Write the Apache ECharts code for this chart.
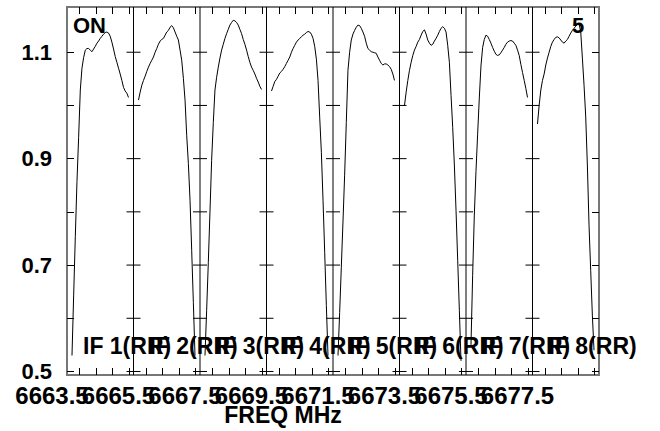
<!DOCTYPE html>
<html><head><meta charset="utf-8">
<script src="https://cdn.jsdelivr.net/npm/echarts@6/dist/echarts.min.js"></script>
<style>html,body{margin:0;padding:0;background:#fff}#c{width:660px;height:431px}</style>
</head><body><div id="c"></div>
<script>
// ---- data ----
const ifStart = [6663.5, 6665.5, 6667.5, 6669.5, 6671.5, 6673.5, 6675.5, 6677.5];
const ifNames = ['IF 1(RR)', 'IF 2(RR)', 'IF 3(RR)', 'IF 4(RR)', 'IF 5(RR)', 'IF 6(RR)', 'IF 7(RR)', 'IF 8(RR)'];
const xTickLabels = ['6663.5', '6665.5', '6667.5', '6669.5', '6671.5', '6673.5', '6675.5', '6677.5'];
const xMinorOffsets = [0.37, 0.87, 1.37, 1.87];
const yTickValues = [0.5, 0.6, 0.7, 0.8, 0.9, 1.0, 1.1];
const yLabelValues = [0.5, 0.7, 0.9, 1.1];
const chanOffset = [0.15, 0.20, 0.25, 0.30, 0.35, 0.40, 0.45, 0.50, 0.55, 0.60, 0.65, 0.70, 0.75, 0.80, 0.85, 0.90, 0.95, 1.00, 1.05, 1.10, 1.15, 1.20, 1.25, 1.30, 1.35, 1.40, 1.45, 1.50, 1.55, 1.60, 1.65, 1.70, 1.75, 1.80, 1.85];
const if1 = [0.53, 0.642, 0.754, 0.857, 0.94, 1.029, 1.07, 1.09, 1.104, 1.107, 1.107, 1.104, 1.101, 1.106, 1.111, 1.117, 1.121, 1.126, 1.13, 1.134, 1.137, 1.138, 1.136, 1.13, 1.119, 1.106, 1.092, 1.081, 1.07, 1.059, 1.047, 1.034, 1.027, 1.023, 1.015];
const if2 = [1.010, 1.025, 1.038, 1.047, 1.055, 1.064, 1.072, 1.079, 1.085, 1.091, 1.10, 1.107, 1.115, 1.121, 1.124, 1.126, 1.132, 1.138, 1.141, 1.147, 1.15, 1.146, 1.138, 1.13, 1.123, 1.104, 1.085, 1.051, 1.01, 0.944, 0.891, 0.822, 0.728, 0.63, 0.53];
const if3 = [0.53, 0.615, 0.705, 0.80, 0.897, 0.968, 1.029, 1.053, 1.072, 1.089, 1.104, 1.115, 1.126, 1.135, 1.143, 1.151, 1.156, 1.16, 1.159, 1.156, 1.151, 1.143, 1.135, 1.124, 1.115, 1.104, 1.092, 1.081, 1.072, 1.066, 1.059, 1.051, 1.044, 1.036, 1.03];
const if4 = [1.027, 1.036, 1.045, 1.049, 1.055, 1.061, 1.064, 1.068, 1.073, 1.079, 1.085, 1.091, 1.10, 1.107, 1.113, 1.119, 1.123, 1.126, 1.129, 1.132, 1.134, 1.137, 1.139, 1.138, 1.134, 1.126, 1.111, 1.087, 1.047, 0.978, 0.912, 0.822, 0.724, 0.624, 0.53];
const if5 = [0.53, 0.611, 0.696, 0.781, 0.869, 0.968, 1.066, 1.10, 1.123, 1.134, 1.141, 1.147, 1.151, 1.15, 1.145, 1.138, 1.13, 1.117, 1.107, 1.104, 1.101, 1.10, 1.099, 1.098, 1.091, 1.085, 1.079, 1.076, 1.078, 1.078, 1.076, 1.073, 1.068, 1.059, 1.047];
const if6 = [1.0, 1.025, 1.047, 1.066, 1.081, 1.094, 1.104, 1.111, 1.119, 1.124, 1.132, 1.139, 1.142, 1.134, 1.123, 1.117, 1.113, 1.115, 1.121, 1.126, 1.132, 1.139, 1.145, 1.148, 1.145, 1.138, 1.113, 1.081, 1.019, 0.959, 0.888, 0.803, 0.709, 0.615, 0.52];
const if7 = [0.55, 0.681, 0.794, 0.876, 0.946, 1.014, 1.074, 1.109, 1.124, 1.132, 1.13, 1.124, 1.117, 1.109, 1.102, 1.096, 1.094, 1.095, 1.099, 1.104, 1.109, 1.115, 1.119, 1.121, 1.122, 1.121, 1.117, 1.113, 1.104, 1.094, 1.077, 1.062, 1.047, 1.032, 1.015];
const if8 = [0.965, 1.0, 1.029, 1.047, 1.059, 1.076, 1.089, 1.10, 1.111, 1.119, 1.124, 1.128, 1.129, 1.127, 1.123, 1.119, 1.117, 1.121, 1.124, 1.13, 1.136, 1.141, 1.145, 1.149, 1.152, 1.153, 1.139, 1.089, 1.038, 0.98, 0.888, 0.775, 0.69, 0.606, 0.54];
const ifValues = [if1, if2, if3, if4, if5, if6, if7, if8];

const xMin = 6663.5, xMax = 6679.5, yMin = 0.4934, yMax = 1.185;
const FONT = "'Liberation Sans', Arial, sans-serif";

const chart = echarts.init(document.getElementById('c'), null, {renderer: 'svg'});

const minorTicks = [];
ifStart.forEach(s => xMinorOffsets.forEach(o => minorTicks.push(+(s + o).toFixed(3))));

const lineSeries = ifValues.map((vals, i) => ({
  type: 'line',
  xAxisIndex: 0, yAxisIndex: 0,
  data: chanOffset.map((o, j) => [ifStart[i] + o, vals[j]]),
  showSymbol: false,
  symbol: 'none',
  lineStyle: {color: '#000', width: 1},
  silent: true,
  animation: false
}));

const xAxisBase = {
  type: 'value', min: xMin, max: xMax,
  axisLine: {show: false},
  splitLine: {show: false},
  axisLabel: {show: false},
  axisTick: {show: true, inside: true, length: 7, customValues: minorTicks, lineStyle: {color: '#000', width: 1}}
};
const yAxisBase = {
  type: 'value', min: yMin, max: yMax,
  axisLine: {show: false},
  splitLine: {show: false},
  axisTick: {show: true, inside: true, length: 7, customValues: yTickValues, lineStyle: {color: '#000', width: 1}}
};

chart.setOption({
  backgroundColor: '#fff',
  animation: false,
  grid: {left: 67, right: 61, top: 7, bottom: 56, show: true, borderColor: '#777', borderWidth: 2, backgroundColor: 'transparent'},
  xAxis: [
    Object.assign({}, xAxisBase, {position: 'bottom'}),
    Object.assign({}, xAxisBase, {position: 'top'})
  ],
  yAxis: [
    Object.assign({}, yAxisBase, {
      position: 'left',
      axisLabel: {
        show: true, customValues: yLabelValues, margin: 15,
        formatter: v => (+v).toFixed(1),
        color: '#000', fontFamily: FONT, fontWeight: 'bold', fontSize: 22
      }
    }),
    Object.assign({}, yAxisBase, {position: 'right', axisLabel: {show: false}})
  ],
  series: lineSeries.concat([
    {
      // panel dividers with cross ticks
      type: 'custom',
      xAxisIndex: 0, yAxisIndex: 0,
      silent: true, clip: false,
      data: ifStart.slice(1).map(x => [x, yMin]),
      encode: {x: 0, y: 1},
      renderItem: (params, api) => {
        const x = api.value(0);
        const t = api.coord([x, yMax]);
        const b = api.coord([x, yMin]);
        const children = [{type: 'line', shape: {x1: t[0], y1: t[1], x2: b[0], y2: b[1]}, style: {stroke: '#000', lineWidth: 1}}];
        yTickValues.forEach(v => {
          const p = api.coord([x, v]);
          children.push({type: 'line', shape: {x1: p[0] - 7, y1: p[1], x2: p[0] + 7, y2: p[1]}, style: {stroke: '#000', lineWidth: 1}});
        });
        return {type: 'group', children};
      }
    },
    {
      // IF panel labels
      type: 'custom',
      xAxisIndex: 0, yAxisIndex: 0,
      silent: true, clip: false,
      data: ifStart.map((x, i) => [x, 0.5, i]),
      encode: {x: 0, y: 1},
      renderItem: (params, api) => {
        const p = api.coord([api.value(0), api.value(1)]);
        return {
          type: 'text', x: p[0] + 16, y: p[1] - 25,
          style: {text: ifNames[api.value(2)], fill: '#000', font: "bold 23px " + FONT, align: 'left', verticalAlign: 'middle'}
        };
      }
    },
    {
      // frequency tick labels under each panel start
      type: 'custom',
      xAxisIndex: 0, yAxisIndex: 0,
      silent: true, clip: false,
      data: ifStart.map((x, i) => [x, yMin, i]),
      encode: {x: 0, y: 1},
      renderItem: (params, api) => {
        const p = api.coord([api.value(0), api.value(1)]);
        return {
          type: 'text', x: p[0] - 15, y: p[1] + 20,
          style: {text: xTickLabels[api.value(2)], fill: '#000', font: "bold 24px " + FONT, align: 'center', verticalAlign: 'middle'}
        };
      }
    }
  ]),
  graphic: [
    {type: 'text', left: 73, top: 14, style: {text: 'ON', fill: '#000', font: 'bold 22px ' + FONT}},
    {type: 'text', left: 572, top: 14, style: {text: '5', fill: '#000', font: 'bold 22px ' + FONT}},
    {type: 'text', x: 283, y: 415, style: {text: 'FREQ MHz', fill: '#000', font: 'bold 23px ' + FONT, align: 'center', verticalAlign: 'middle'}}
  ]
});
</script>
</body></html>
